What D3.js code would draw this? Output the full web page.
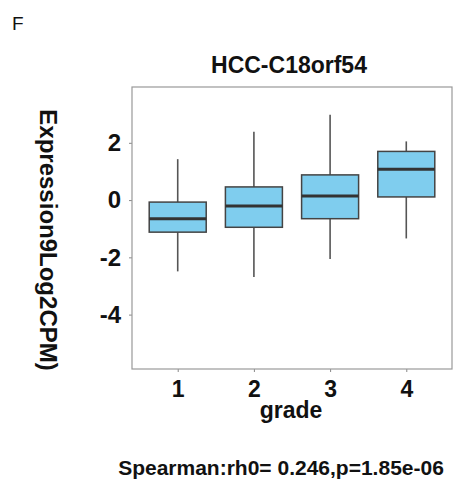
<!DOCTYPE html>
<html><head><meta charset="utf-8">
<script src="https://cdn.jsdelivr.net/npm/d3@7"></script>
<style>body{margin:0;background:#fff;} svg{display:block;font-family:Arial,"Liberation Sans",sans-serif;}</style>
</head><body>
<script>
const categories = ["1","2","3","4"];
const whiskerLow  = [-2.49, -2.69, -2.06, -1.34];
const q1          = [-1.12, -0.95, -0.65,  0.11];
const median      = [-0.65, -0.21,  0.14,  1.08];
const q3          = [-0.07,  0.46,  0.88,  1.70];
const whiskerHigh = [ 1.43,  2.39,  2.98,  2.05];
const yTicks = [2, 0, -2, -4];

(function () {
const W = 454, H = 483;
const svg = d3.select("body").append("svg").attr("width", W).attr("height", H);
const pLeft = 132, pRight = 452, pTop = 87, pBottom = 369;

const x = d3.scalePoint().domain(categories).range([pLeft, pRight]).padding(0.6);
const y = d3.scaleLinear().domain([-5.9, 3.95]).range([pBottom, pTop]);
const boxW = 57;

svg.append("text").attr("x", 12).attr("y", 30).attr("font-size", 19).attr("fill", "#111").text("F");
svg.append("text").attr("x", 289).attr("y", 73).attr("text-anchor", "middle")
  .attr("font-size", 23).attr("font-weight", "bold").attr("fill", "#111").text("HCC-C18orf54");

const yAxis = svg.append("g").attr("transform", `translate(${pLeft},0)`)
  .call(d3.axisLeft(y).tickValues(yTicks).tickSize(3).tickPadding(8).tickFormat(d => String(d)));
yAxis.select(".domain").remove();
yAxis.selectAll("line").attr("stroke", "#888");
yAxis.selectAll("text").attr("font-size", 24).attr("font-weight", "bold").attr("fill", "#111")
  .attr("font-family", "Arial,'Liberation Sans',sans-serif");

const xAxis = svg.append("g").attr("transform", `translate(0,${pBottom})`)
  .call(d3.axisBottom(x).tickSize(3).tickPadding(9));
xAxis.select(".domain").remove();
xAxis.selectAll("line").attr("stroke", "#888");
xAxis.selectAll("text").attr("font-size", 23).attr("font-weight", "bold").attr("fill", "#111")
  .attr("font-family", "Arial,'Liberation Sans',sans-serif");

svg.append("rect").attr("x", pLeft).attr("y", pTop).attr("width", pRight - pLeft).attr("height", pBottom - pTop)
  .attr("fill", "none").attr("stroke", "#999").attr("stroke-width", 1.2);

const data = categories.map((c, i) => ({c, lo: whiskerLow[i], q1: q1[i], med: median[i], q3: q3[i], hi: whiskerHigh[i]}));
const g = svg.append("g").selectAll("g").data(data).join("g");
g.append("line").attr("x1", d => x(d.c)).attr("x2", d => x(d.c))
  .attr("y1", d => y(d.hi)).attr("y2", d => y(d.q3)).attr("stroke", "#555").attr("stroke-width", 1.6);
g.append("line").attr("x1", d => x(d.c)).attr("x2", d => x(d.c))
  .attr("y1", d => y(d.q1)).attr("y2", d => y(d.lo)).attr("stroke", "#555").attr("stroke-width", 1.6);
g.append("rect").attr("x", d => x(d.c) - boxW / 2).attr("width", boxW)
  .attr("y", d => y(d.q3)).attr("height", d => y(d.q1) - y(d.q3))
  .attr("fill", "#7fcdee").attr("stroke", "#444").attr("stroke-width", 1.5);
g.append("line").attr("x1", d => x(d.c) - boxW / 2).attr("x2", d => x(d.c) + boxW / 2)
  .attr("y1", d => y(d.med)).attr("y2", d => y(d.med)).attr("stroke", "#333").attr("stroke-width", 3);

svg.append("text").attr("x", 291).attr("y", 418).attr("text-anchor", "middle")
  .attr("font-size", 23).attr("font-weight", "bold").attr("fill", "#111").text("grade");
svg.append("text").attr("transform", "translate(40,240) rotate(90)").attr("text-anchor", "middle")
  .attr("font-size", 24).attr("font-weight", "bold").attr("fill", "#111").text("Expression9Log2CPM)");
svg.append("text").attr("x", 281).attr("y", 475).attr("text-anchor", "middle")
  .attr("font-size", 21).attr("font-weight", "bold").attr("fill", "#111").text("Spearman:rh0= 0.246,p=1.85e-06");
})();
</script>
</body></html>
